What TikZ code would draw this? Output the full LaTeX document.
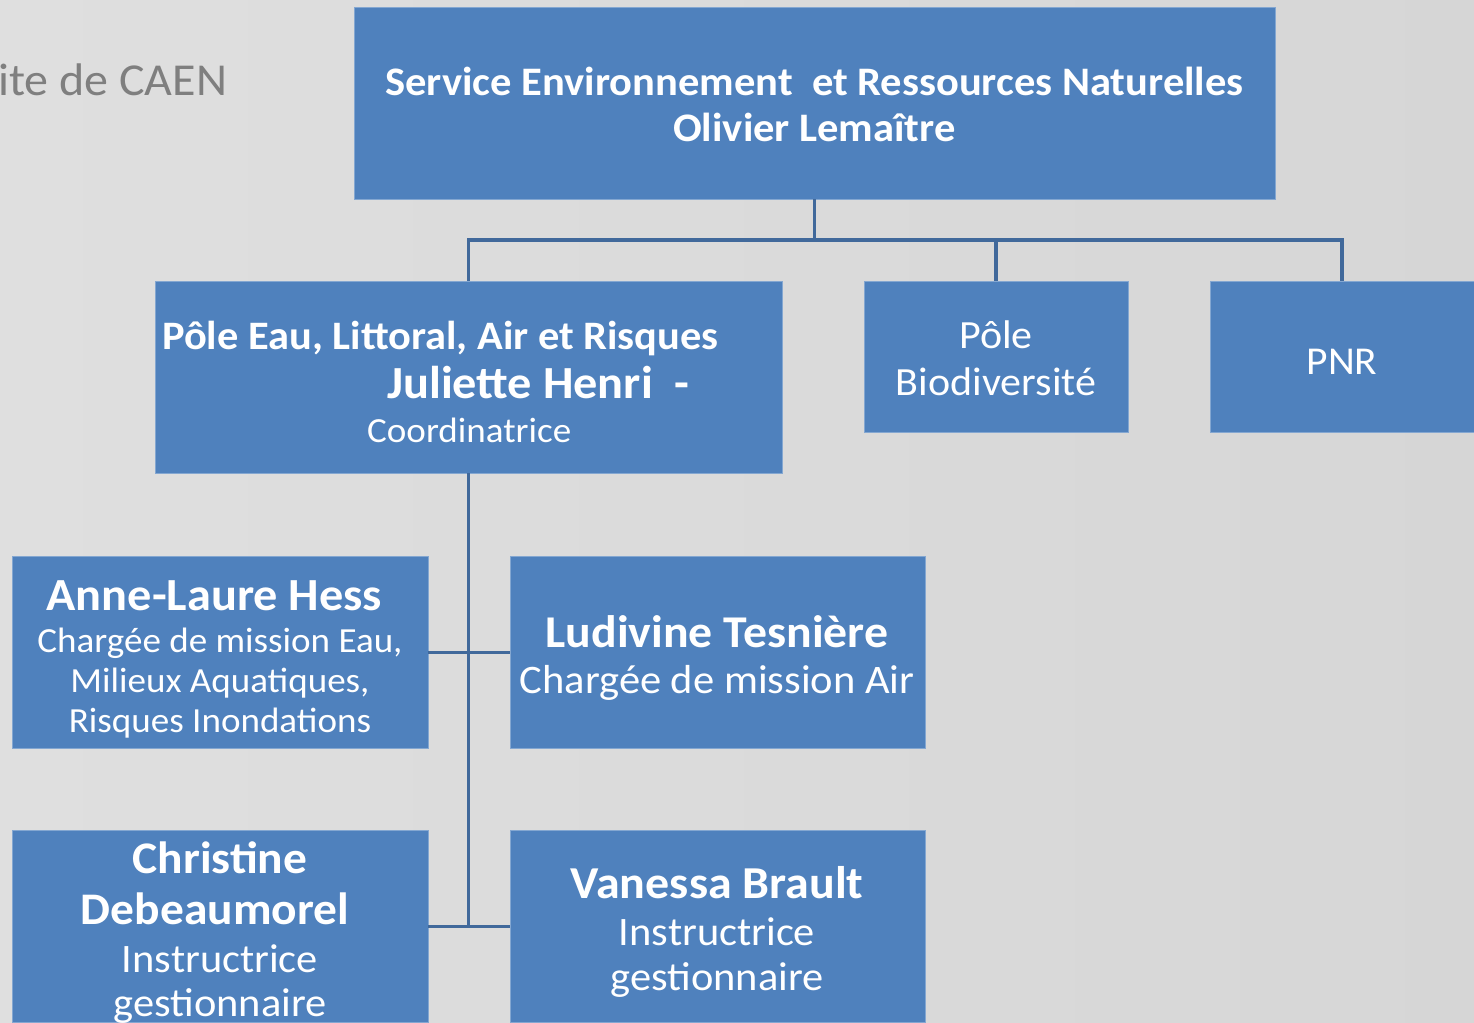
\documentclass[tikz,border=0pt]{standalone}
\usepackage{fontspec}
\setmainfont{Carlito}
\definecolor{boxblue}{HTML}{4F81BD}
\definecolor{lineblue}{HTML}{41699B}
\definecolor{bggray}{HTML}{DFDFDF}
\definecolor{capgray}{HTML}{7F7F7F}
\newcommand{\hstretch}[1]{\scalebox{1.05}[1]{#1}}
\begin{document}
\begin{tikzpicture}[x=1pt,y=-1pt,
  orgbox/.style={draw=boxblue!70!white, line width=0.8pt, fill=boxblue, inner sep=0pt, outer sep=0pt},
  conn/.style={draw=lineblue, line width=3.5pt},
  txt/.style={text=white, inner sep=0pt, anchor=base},
  bfs/.style={font=\fontsize{#1}{#1}\selectfont\bfseries},
  rfs/.style={font=\fontsize{#1}{#1}\selectfont}]
\useasboundingbox (0,0) rectangle (1474,1022);
\clip (0,0) rectangle (1474,1022);
\fill[left color=bggray, right color=bggray!96!black] (0,0) rectangle (1474,1022);

% partial caption
\node[text=capgray, inner sep=0pt, anchor=base west, rfs=45.7] (caen) at (-2,96) {\hstretch{ite de CAEN}};

% boxes
\node[orgbox, minimum width=921pt, minimum height=192pt] (top) at (814.5,103) {};
\node[orgbox, minimum width=627pt, minimum height=192pt] (eau) at (468.5,377) {};
\node[orgbox, minimum width=264pt, minimum height=151pt] (bio) at (996,356.5) {};
\node[orgbox, minimum width=264pt, minimum height=151pt] (pnr) at (1342,356.5) {};
\node[orgbox, minimum width=416pt, minimum height=192pt] (anne) at (220,652) {};
\node[orgbox, minimum width=415pt, minimum height=192pt] (ludi) at (717.5,652) {};
\node[orgbox, minimum width=416pt, minimum height=192pt] (chris) at (220,926) {};
\node[orgbox, minimum width=415pt, minimum height=192pt] (vane) at (717.5,926) {};

% connectors
\coordinate (bus) at (814.5,240);
\draw[conn] (top.south) -- (bus);
\draw[conn] (bus) -| (eau.north);
\draw[conn] (bus) -| (bio.north);
\draw[conn] (bus) -| (pnr.north);
\draw[conn, line width=3pt] (eau.south) -- (eau.south |- chris.east);
\draw[conn, line width=3pt] (anne.east) -- (ludi.west);
\draw[conn, line width=3pt] (chris.east) -- (vane.west);

% texts
\node[txt, bfs=40.5] (t1) at (814.5,96) {\hstretch{Service Environnement\ \ et Ressources Naturelles}};
\node[txt, bfs=40.5] (t2) at (814.5,142) {\hstretch{Olivier Lemaître}};

\node[txt, bfs=40.4, anchor=base west] (e1) at (162,349) {\hstretch{Pôle Eau, Littoral, Air et Risques}};
\node[txt, bfs=46, anchor=base west] (e2) at (387,398) {\hstretch{Juliette Henri\ \ -}};
\node[txt, rfs=35.3, anchor=base west] (e3) at (367,442) {\hstretch{Coordinatrice}};

\node[txt, rfs=40] (b1) at (996,348) {\hstretch{Pôle}};
\node[txt, rfs=40] (b2) at (996,395) {\hstretch{Biodiversité}};

\node[txt, rfs=39.5] (p1) at (1342,374) {\hstretch{PNR}};

\node[txt, bfs=46] (a1) at (214.5,610) {\hstretch{Anne-Laure Hess}};
\node[txt, rfs=35.3] (a2) at (220,652) {\hstretch{Chargée de mission Eau,}};
\node[txt, rfs=35.3] (a3) at (220,692) {\hstretch{Milieux Aquatiques,}};
\node[txt, rfs=35.3] (a4) at (220,732) {\hstretch{Risques Inondations}};

\node[txt, bfs=45.5] (l1) at (717,647) {\hstretch{Ludivine Tesnière}};
\node[txt, rfs=40.5] (l2) at (717,693) {\hstretch{Chargée de mission Air}};

\node[txt, bfs=45.2] (c1) at (220,873) {\hstretch{Christine}};
\node[txt, bfs=45.2] (c2) at (215,924) {\hstretch{Debeaumorel}};
\node[txt, rfs=40.4] (c3) at (220,972) {\hstretch{Instructrice}};
\node[txt, rfs=40.4] (c4) at (220,1016) {\hstretch{gestionnaire}};

\node[txt, bfs=45.7] (v1) at (717,898) {\hstretch{Vanessa Brault}};
\node[txt, rfs=40.4] (v2) at (717,945) {\hstretch{Instructrice}};
\node[txt, rfs=40.4] (v3) at (717,990) {\hstretch{gestionnaire}};
\end{tikzpicture}
\end{document}
